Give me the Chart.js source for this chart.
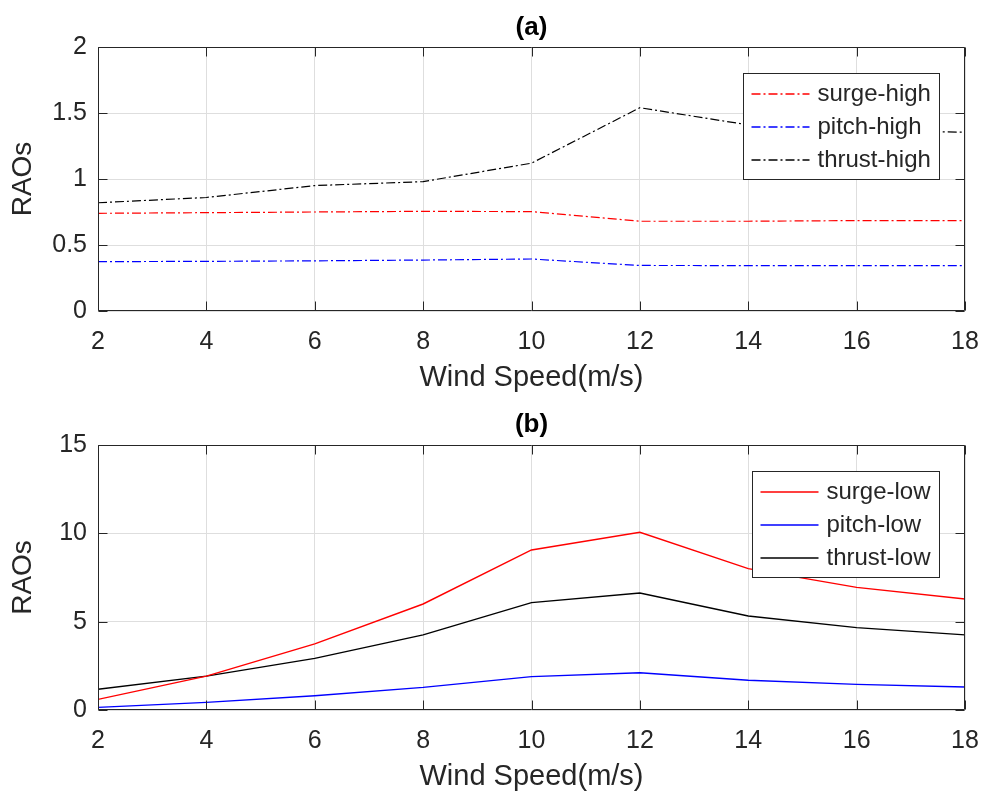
<!DOCTYPE html>
<html><head><meta charset="utf-8">
<script src="https://cdn.jsdelivr.net/npm/chart.js@4/dist/chart.umd.min.js"></script>
<style>
html,body{margin:0;padding:0;background:#fff;}
#wrap{width:984px;height:794px;position:relative;overflow:hidden;}
canvas{display:block;}
</style></head><body>
<div id="wrap">
<canvas id="c1" width="984" height="397"></canvas>
<canvas id="c2" width="984" height="397"></canvas>
</div>
<script>
// ---------- data ----------
const windSpeed = [2, 4, 6, 8, 10, 12, 14, 16, 18];

const surgeHigh  = [0.740, 0.745, 0.750, 0.755, 0.753, 0.680, 0.680, 0.685, 0.685];
const pitchHigh  = [0.374, 0.376, 0.380, 0.386, 0.394, 0.345, 0.344, 0.344, 0.343];
const thrustHigh = [0.820, 0.860, 0.950, 0.980, 1.120, 1.540, 1.410, 1.365, 1.355];

const surgeLow  = [0.60, 1.92, 3.74, 6.00, 9.06, 10.06, 8.00, 6.94, 6.28];
const pitchLow  = [0.15, 0.43, 0.81, 1.28, 1.89, 2.11, 1.68, 1.45, 1.30];
const thrustLow = [1.17, 1.92, 2.92, 4.25, 6.08, 6.62, 5.32, 4.66, 4.25];

const xTickValues = [2, 4, 6, 8, 10, 12, 14, 16, 18];
const yTickValuesA = [0, 0.5, 1, 1.5, 2];
const yTickValuesB = [0, 5, 10, 15];

const panelTitles = ['(a)', '(b)'];
const xAxisTitle = 'Wind Speed(m/s)';
const yAxisTitle = 'RAOs';
const labelsHigh = ['surge-high', 'pitch-high', 'thrust-high'];
const labelsLow = ['surge-low', 'pitch-low', 'thrust-low'];

// ---------- style ----------
const FONT = '"Liberation Sans", Arial, Helvetica, sans-serif';
const TXT = '#262626';
const AXC = '#262626';
const GRIDC = '#dedede';

const pts = arr => arr.map((v, i) => ({x: windSpeed[i], y: v}));

const matlabPlugin = {
  id: 'matlab',
  afterDatasetsDraw(chart) {
    const ctx = chart.ctx, a = chart.chartArea;
    const xs = chart.scales.x, ys = chart.scales.y;
    const o = chart.options.plugins.matlab;
    ctx.save();
    // axes box + inward ticks
    ctx.strokeStyle = AXC; ctx.lineWidth = 1;
    const L = Math.round(a.left) + 0.5, R = Math.round(a.right) - 0.5;
    const T = Math.round(a.top) + 0.5, B = Math.round(a.bottom) - 0.5;
    ctx.beginPath();
    ctx.rect(L, T, R - L, B - T);
    const tl = 9;
    xs.ticks.forEach(t => {
      const px = Math.round(xs.getPixelForValue(t.value)) + 0.5;
      ctx.moveTo(px, B); ctx.lineTo(px, B - tl);
      ctx.moveTo(px, T); ctx.lineTo(px, T + tl);
    });
    ys.ticks.forEach(t => {
      const py = Math.round(ys.getPixelForValue(t.value)) + 0.5;
      ctx.moveTo(L, py); ctx.lineTo(L + tl, py);
      ctx.moveTo(R, py); ctx.lineTo(R - tl, py);
    });
    ctx.stroke();

    // legend (inside the axes, top-right)
    const ds = chart.data.datasets;
    ctx.font = '24px ' + FONT;
    const maxW = Math.max(...ds.map(d => ctx.measureText(d.label).width));
    const boxW = Math.round(8 + 58 + 8 + maxW + 9);
    const boxH = 106;
    const bx = Math.round(a.right - 26 - boxW) + 0.5;
    const by = Math.round(a.top + 26) + 0.5;
    ctx.fillStyle = '#ffffff';
    ctx.fillRect(bx, by, boxW, boxH);
    ctx.strokeStyle = AXC; ctx.lineWidth = 1;
    ctx.strokeRect(bx, by, boxW, boxH);
    ds.forEach((d, i) => {
      const cy = Math.round(by + 20 + i * 33);
      ctx.save();
      ctx.strokeStyle = d.borderColor;
      ctx.lineWidth = 1.5;
      ctx.setLineDash(d.borderDash || []);
      ctx.beginPath();
      ctx.moveTo(bx + 8, cy); ctx.lineTo(bx + 8 + 58, cy);
      ctx.stroke();
      ctx.restore();
      ctx.fillStyle = TXT;
      ctx.textAlign = 'left'; ctx.textBaseline = 'middle';
      ctx.fillText(d.label, bx + 8 + 58 + 8, cy);
    });

    // panel title
    ctx.font = 'bold 26px ' + FONT;
    ctx.fillStyle = '#000';
    ctx.textAlign = 'center'; ctx.textBaseline = 'middle';
    ctx.fillText(o.title, (a.left + a.right) / 2, o.titleY);
    ctx.restore();
  }
};

function makeChart(id, datasets, yTicks, title, plotTop, plotBottom) {
  const H = 397;
  return new Chart(document.getElementById(id), {
    type: 'line',
    data: {datasets},
    options: {
      responsive: false,
      animation: false,
      devicePixelRatio: 1,
      layout: {padding: {top: plotTop, right: 19, left: 0, bottom: 0}},
      plugins: {
        legend: {display: false},
        tooltip: {enabled: false},
        title: {display: false},
        matlab: {title: title, titleY: 28}
      },
      elements: {point: {radius: 0}, line: {tension: 0}},
      scales: {
        x: {
          type: 'linear', min: xTickValues[0], max: xTickValues[xTickValues.length - 1],
          afterBuildTicks: s => { s.ticks = xTickValues.map(v => ({value: v})); },
          afterFit: s => { s.height = H - plotBottom; s.paddingLeft = 0; s.paddingRight = 0; },
          grid: {color: GRIDC, lineWidth: 1, drawTicks: false},
          border: {display: false},
          ticks: {padding: 16, color: TXT, font: {family: FONT, size: 25}, maxRotation: 0,
                  callback: v => String(v)},
          title: {display: true, text: xAxisTitle, color: TXT,
                  font: {family: FONT, size: 29}, padding: {top: 0, bottom: (H - plotBottom) - 67 - 17.4}}
        },
        y: {
          type: 'linear', min: yTicks[0], max: yTicks[yTicks.length - 1],
          afterBuildTicks: s => { s.ticks = yTicks.map(v => ({value: v})); },
          afterFit: s => { s.width = 98; },
          grid: {color: GRIDC, lineWidth: 1, drawTicks: false},
          border: {display: false},
          ticks: {padding: 11, color: TXT, font: {family: FONT, size: 25},
                  callback: v => String(v)},
          title: {display: true, text: yAxisTitle, color: TXT,
                  font: {family: FONT, size: 28}, padding: {top: 6, bottom: 0}}
        }
      }
    },
    plugins: [matlabPlugin]
  });
}

const dashDot = [9, 3, 2, 3];
makeChart('c1', [
  {label: labelsHigh[0], data: pts(surgeHigh), borderColor: '#ff0000', borderWidth: 1.2, borderDash: dashDot},
  {label: labelsHigh[1], data: pts(pitchHigh), borderColor: '#0000ff', borderWidth: 1.2, borderDash: dashDot},
  {label: labelsHigh[2], data: pts(thrustHigh), borderColor: '#000000', borderWidth: 1.2, borderDash: dashDot}
], yTickValuesA, panelTitles[0], 47, 311);

makeChart('c2', [
  {label: labelsLow[0], data: pts(surgeLow), borderColor: '#ff0000', borderWidth: 1.4},
  {label: labelsLow[1], data: pts(pitchLow), borderColor: '#0000ff', borderWidth: 1.4},
  {label: labelsLow[2], data: pts(thrustLow), borderColor: '#000000', borderWidth: 1.4}
], yTickValuesB, panelTitles[1], 48, 313);
</script>
</body></html>
